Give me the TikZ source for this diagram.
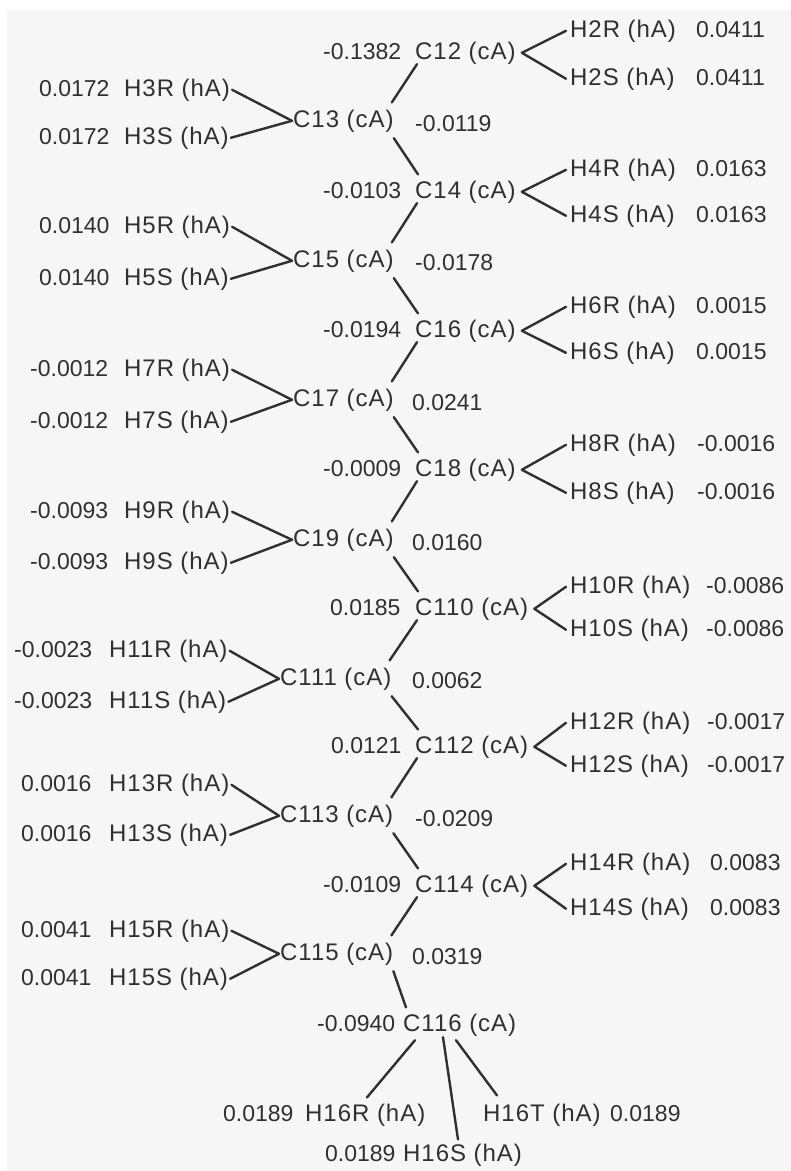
\documentclass[tikz,border=0pt]{standalone}
\usepackage{fontspec}
\setmainfont{Liberation Sans}
\newfontfamily\atomfam{Liberation Sans}[LetterSpace=4]
\definecolor{ink}{RGB}{48,48,48}
\definecolor{paper}{RGB}{246,246,246}
\tikzset{
  atom/.style={font=\atomfam\fontsize{24}{27}\selectfont},
  charge/.style={font=\fontsize{23}{26}\selectfont},
  bond/.style={draw=ink, line width=2.4pt, line cap=round}
}
\begin{document}
\begin{tikzpicture}[x=1pt, y=-1pt,
    every node/.style={inner sep=0pt, anchor=base west, text=ink}]
  \useasboundingbox (0,0) rectangle (791,1171);
  \fill[white] (0,0) rectangle (791,1171);
  \fill[paper] (7,10) rectangle (791,1171);
  % carbon chain
  \path
    (415,59) node[atom] (C12){C12 (cA)}
    (293,127) node[atom] (C13){C13 (cA)}
    (415,198) node[atom] (C14){C14 (cA)}
    (293,267) node[atom] (C15){C15 (cA)}
    (415,337) node[atom] (C16){C16 (cA)}
    (293,406) node[atom] (C17){C17 (cA)}
    (415,476) node[atom] (C18){C18 (cA)}
    (293,546) node[atom] (C19){C19 (cA)}
    (415,615) node[atom] (C110){C110 (cA)}
    (280,685) node[atom] (C111){C111 (cA)}
    (415,753) node[atom] (C112){C112 (cA)}
    (280,822) node[atom] (C113){C113 (cA)}
    (415,892) node[atom] (C114){C114 (cA)}
    (280,960) node[atom] (C115){C115 (cA)}
    (403,1031) node[atom] (C116){C116 (cA)};
  % hydrogens, right side
  \path
    (570,37) node[atom] (H2R){H2R (hA)}
    (570,85) node[atom] (H2S){H2S (hA)}
    (570,176) node[atom] (H4R){H4R (hA)}
    (570,222) node[atom] (H4S){H4S (hA)}
    (570,313) node[atom] (H6R){H6R (hA)}
    (570,359) node[atom] (H6S){H6S (hA)}
    (570,451) node[atom] (H8R){H8R (hA)}
    (570,499) node[atom] (H8S){H8S (hA)}
    (570,593) node[atom] (H10R){H10R (hA)}
    (570,636) node[atom] (H10S){H10S (hA)}
    (570,729) node[atom] (H12R){H12R (hA)}
    (570,772) node[atom] (H12S){H12S (hA)}
    (570,870) node[atom] (H14R){H14R (hA)}
    (570,915) node[atom] (H14S){H14S (hA)};
  % hydrogens, left side
  \path
    (124,96) node[atom] (H3R){H3R (hA)}
    (124,144) node[atom] (H3S){H3S (hA)}
    (124,233) node[atom] (H5R){H5R (hA)}
    (124,285) node[atom] (H5S){H5S (hA)}
    (124,376) node[atom] (H7R){H7R (hA)}
    (124,428) node[atom] (H7S){H7S (hA)}
    (124,518) node[atom] (H9R){H9R (hA)}
    (124,569) node[atom] (H9S){H9S (hA)}
    (109,657) node[atom] (H11R){H11R (hA)}
    (109,708) node[atom] (H11S){H11S (hA)}
    (109,791) node[atom] (H13R){H13R (hA)}
    (109,841) node[atom] (H13S){H13S (hA)}
    (109,937) node[atom] (H15R){H15R (hA)}
    (109,985) node[atom] (H15S){H15S (hA)}
    (305,1121) node[atom] (H16R){H16R (hA)}
    (403,1161) node[atom] (H16S){H16S (hA)}
    (483,1121) node[atom] (H16T){H16T (hA)};
  % charges
  \path
    (323,59) node[charge] (qC12){-0.1382}
    (415,131) node[charge] (qC13){-0.0119}
    (323,198) node[charge] (qC14){-0.0103}
    (415,270) node[charge] (qC15){-0.0178}
    (323,337) node[charge] (qC16){-0.0194}
    (412,410) node[charge] (qC17){0.0241}
    (323,476) node[charge] (qC18){-0.0009}
    (412,550) node[charge] (qC19){0.0160}
    (330,615) node[charge] (qC110){0.0185}
    (412,688) node[charge] (qC111){0.0062}
    (331,753) node[charge] (qC112){0.0121}
    (415,826) node[charge] (qC113){-0.0209}
    (323,892) node[charge] (qC114){-0.0109}
    (412,964) node[charge] (qC115){0.0319}
    (317,1031) node[charge] (qC116){-0.0940}
    (696,37) node[charge] (qH2R){0.0411}
    (696,85) node[charge] (qH2S){0.0411}
    (696,176) node[charge] (qH4R){0.0163}
    (696,222) node[charge] (qH4S){0.0163}
    (696,313) node[charge] (qH6R){0.0015}
    (696,359) node[charge] (qH6S){0.0015}
    (697,451) node[charge] (qH8R){-0.0016}
    (697,499) node[charge] (qH8S){-0.0016}
    (706,593) node[charge] (qH10R){-0.0086}
    (706,636) node[charge] (qH10S){-0.0086}
    (707,729) node[charge] (qH12R){-0.0017}
    (707,772) node[charge] (qH12S){-0.0017}
    (710,870) node[charge] (qH14R){0.0083}
    (710,915) node[charge] (qH14S){0.0083}
    (39,96) node[charge] (qH3R){0.0172}
    (39,144) node[charge] (qH3S){0.0172}
    (39,233) node[charge] (qH5R){0.0140}
    (39,285) node[charge] (qH5S){0.0140}
    (30,376) node[charge] (qH7R){-0.0012}
    (30,428) node[charge] (qH7S){-0.0012}
    (30,518) node[charge] (qH9R){-0.0093}
    (30,569) node[charge] (qH9S){-0.0093}
    (14,657) node[charge] (qH11R){-0.0023}
    (14,708) node[charge] (qH11S){-0.0023}
    (21,791) node[charge] (qH13R){0.0016}
    (21,841) node[charge] (qH13S){0.0016}
    (21,937) node[charge] (qH15R){0.0041}
    (21,985) node[charge] (qH15S){0.0041}
    (223,1121) node[charge] (qH16R){0.0189}
    (325,1161) node[charge] (qH16S){0.0189}
    (610,1121) node[charge] (qH16T){0.0189};
  \begin{scope}[bond]
    % C--C
    \draw ([xshift=2pt]C12.south west) -- ([xshift=-2pt,yshift=7pt]C13.north east);
    \draw ([yshift=-6pt]C13.south east) -- ([xshift=3pt,yshift=6pt]C14.north west);
    \draw ([xshift=2pt]C14.south west) -- ([xshift=-2pt,yshift=7pt]C15.north east);
    \draw ([yshift=-6pt]C15.south east) -- ([xshift=3pt,yshift=6pt]C16.north west);
    \draw ([xshift=2pt]C16.south west) -- ([xshift=-2pt,yshift=7pt]C17.north east);
    \draw ([yshift=-6pt]C17.south east) -- ([xshift=3pt,yshift=6pt]C18.north west);
    \draw ([xshift=2pt]C18.south west) -- ([xshift=-2pt,yshift=7pt]C19.north east);
    \draw ([yshift=-6pt]C19.south east) -- ([xshift=3pt,yshift=6pt]C110.north west);
    \draw ([xshift=2pt]C110.south west) -- ([xshift=-2pt,yshift=7pt]C111.north east);
    \draw ([yshift=-6pt]C111.south east) -- ([xshift=3pt,yshift=6pt]C112.north west);
    \draw ([xshift=2pt]C112.south west) -- ([xshift=-2pt,yshift=7pt]C113.north east);
    \draw ([yshift=-6pt]C113.south east) -- ([xshift=3pt,yshift=6pt]C114.north west);
    \draw ([xshift=2pt]C114.south west) -- ([xshift=-2pt,yshift=7pt]C115.north east);
    \draw ([yshift=-6pt]C115.south east) -- ([xshift=3pt,yshift=6pt]C116.north west);
    % C--H, right
    \draw ([xshift=6pt]C12.east) -- ([xshift=-4pt]H2R.west);
    \draw ([xshift=6pt]C12.east) -- ([xshift=-4pt]H2S.west);
    \draw ([xshift=6pt]C14.east) -- ([xshift=-4pt]H4R.west);
    \draw ([xshift=6pt]C14.east) -- ([xshift=-4pt]H4S.west);
    \draw ([xshift=6pt]C16.east) -- ([xshift=-4pt]H6R.west);
    \draw ([xshift=6pt]C16.east) -- ([xshift=-4pt]H6S.west);
    \draw ([xshift=6pt]C18.east) -- ([xshift=-4pt]H8R.west);
    \draw ([xshift=6pt]C18.east) -- ([xshift=-4pt]H8S.west);
    \draw ([xshift=6pt]C110.east) -- ([xshift=-4pt]H10R.west);
    \draw ([xshift=6pt]C110.east) -- ([xshift=-4pt]H10S.west);
    \draw ([xshift=6pt]C112.east) -- ([xshift=-4pt]H12R.west);
    \draw ([xshift=6pt]C112.east) -- ([xshift=-4pt]H12S.west);
    \draw ([xshift=6pt]C114.east) -- ([xshift=-4pt]H14R.west);
    \draw ([xshift=6pt]C114.east) -- ([xshift=-4pt]H14S.west);
    % C--H, left
    \draw ([xshift=2pt]H3R.east) -- ([xshift=-1pt]C13.west);
    \draw ([xshift=2pt]H3S.east) -- ([xshift=-1pt]C13.west);
    \draw ([xshift=2pt]H5R.east) -- ([xshift=-1pt]C15.west);
    \draw ([xshift=2pt]H5S.east) -- ([xshift=-1pt]C15.west);
    \draw ([xshift=2pt]H7R.east) -- ([xshift=-1pt]C17.west);
    \draw ([xshift=2pt]H7S.east) -- ([xshift=-1pt]C17.west);
    \draw ([xshift=2pt]H9R.east) -- ([xshift=-1pt]C19.west);
    \draw ([xshift=2pt]H9S.east) -- ([xshift=-1pt]C19.west);
    \draw ([xshift=2pt]H11R.east) -- ([xshift=-1pt]C111.west);
    \draw ([xshift=2pt]H11S.east) -- ([xshift=-1pt]C111.west);
    \draw ([xshift=2pt]H13R.east) -- ([xshift=-1pt]C113.west);
    \draw ([xshift=2pt]H13S.east) -- ([xshift=-1pt]C113.west);
    \draw ([xshift=2pt]H15R.east) -- ([xshift=-1pt]C115.west);
    \draw ([xshift=2pt]H15S.east) -- ([xshift=-1pt]C115.west);
    % methyl end
    \draw ([xshift=12pt,yshift=-4pt]C116.south west) -- ([xshift=62pt,yshift=6pt]H16R.north west);
    \draw ([xshift=40pt,yshift=-1pt]C116.south west) -- ([xshift=55pt,yshift=4pt]H16S.north west);
    \draw ([xshift=53pt,yshift=-4pt]C116.south west) -- ([xshift=14pt,yshift=8pt]H16T.north west);
  \end{scope}
\end{tikzpicture}
\end{document}
